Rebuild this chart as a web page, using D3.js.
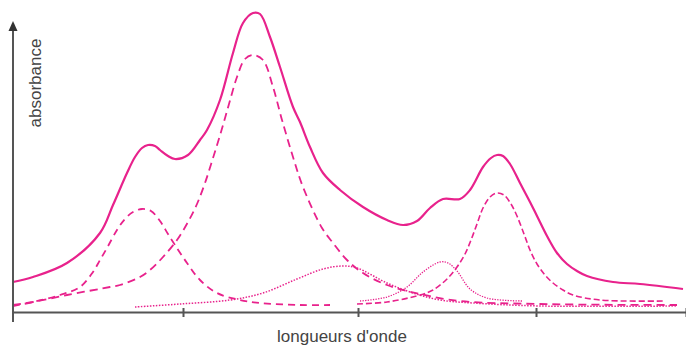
<!DOCTYPE html>
<html>
<head>
<meta charset="utf-8">
<script src="https://d3js.org/d3.v7.min.js"></script>
<style>
    body { margin: 0; background: #fff; }
    text { font-family: "Liberation Sans", Arial, sans-serif; fill: #444; }
</style>
</head>
<body>
<svg id="chart" width="686" height="347"></svg>
<script>
    // wavelength index (arbitrary units) and absorbance (arbitrary units)
    const xTicks = [170, 345, 523];

    const totalX = [0, 20, 54, 87, 100, 114, 122, 129, 135, 142, 147, 155, 162, 175, 187, 194, 207, 220, 230, 240, 247, 257, 267, 280, 287, 297, 310, 327, 350, 374, 390, 404, 417, 430, 447, 457, 470, 478, 484, 490, 497, 507, 517, 524, 534, 544, 554, 564, 574, 600, 627, 670];
    const totalY = [30, 35, 49, 79, 107, 139, 155, 164, 167, 166, 162, 156, 153, 157, 172, 182, 212, 259, 289, 299, 298, 275, 245, 205, 190, 165, 139, 122, 105, 92, 87, 91, 104, 113, 113, 122, 145, 154, 157, 156, 148, 129, 110, 96, 76, 59, 48, 41, 36, 30, 28, 23];

    // large band (dashed)
    const bandAX = [0, 20, 54, 97, 107, 127, 137, 150, 164, 175, 184, 192, 200, 208, 216, 224, 232, 240, 250, 260, 269, 280, 290, 309, 320, 334, 350, 374, 407, 447, 527, 664];
    const bandAY = [7, 10, 17, 25, 27, 35, 42, 55, 72, 90, 108, 129, 154, 180, 208, 235, 253, 257, 252, 225, 192, 155, 125, 84, 69, 52, 39, 27, 18, 11, 8, 7];

    // small left band (dashed)
    const bandBX = [0, 20, 47, 67, 80, 87, 94, 104, 112, 120, 129, 138, 147, 155, 162, 174, 187, 204, 227, 247, 287, 317];
    const bandBY = [6, 10, 17, 25, 40, 52, 64, 82, 93, 100, 103, 101, 91, 78, 67, 49, 32, 19, 12, 9, 7, 7];

    // broad middle band (dotted)
    const bandCX = [122, 167, 217, 250, 284, 310, 330, 344, 374, 400, 427, 460, 527, 664];
    const bandCY = [5, 8, 12, 19, 33, 43, 46, 44, 29, 19, 12, 9, 6, 6];

    // narrow right band (dotted)
    const bandDX = [347, 374, 394, 410, 427, 435, 444, 457, 474, 509];
    const bandDY = [11, 15, 25, 40, 50, 49, 41, 23, 14, 11];

    // right band (dashed)
    const bandEX = [344, 374, 407, 420, 434, 444, 452, 458, 464, 470, 477, 484, 491, 498, 504, 511, 517, 524, 532, 540, 550, 560, 587, 652];
    const bandEY = [8, 10, 17, 22, 33, 45, 58, 72, 88, 104, 115, 119, 117, 108, 96, 78, 62, 48, 37, 29, 22, 17, 12, 11];

    const pink = "#e8228c";
    const svg = d3.select("#chart");

    const x = d3.scaleLinear().domain([0, 673]).range([13, 686]);
    const y = d3.scaleLinear().domain([0, 300]).range([312, 12]);

    const line = d3.line()
        .x(d => x(d[0]))
        .y(d => y(d[1]))
        .curve(d3.curveCatmullRom.alpha(0.5));

    function zipPts(xs, ys) {
        return xs.map((v, i) => [v, ys[i]]);
    }

    const series = [
        { xs: bandBX, ys: bandBY, w: 1.8, dash: "7,5" },
        { xs: bandAX, ys: bandAY, w: 1.8, dash: "8,5" },
        { xs: bandCX, ys: bandCY, w: 1.5, dash: "1.5,1.5" },
        { xs: bandDX, ys: bandDY, w: 1.3, dash: "1.3,1.3" },
        { xs: bandEX, ys: bandEY, w: 1.6, dash: "6,3" },
        { xs: totalX, ys: totalY, w: 2.2, dash: null }
    ];

    series.forEach(s => {
        svg.append("path")
            .attr("d", line(zipPts(s.xs, s.ys)))
            .attr("fill", "none")
            .attr("stroke", pink)
            .attr("stroke-width", s.w)
            .attr("stroke-dasharray", s.dash);
    });

    // x axis
    const xAxis = svg.append("g")
        .attr("transform", "translate(0," + y(0) + ")")
        .call(d3.axisBottom(x).tickValues(xTicks.concat([673])).tickSize(0).tickFormat(""));
    xAxis.select(".domain").attr("stroke", "#555").attr("stroke-width", 2);
    xAxis.selectAll(".tick line").remove();
    xAxis.selectAll(".tick").append("line")
        .attr("y1", -4).attr("y2", 5)
        .attr("stroke", "#555").attr("stroke-width", 2);

    // y axis with arrow
    svg.append("line")
        .attr("x1", x(0)).attr("x2", x(0))
        .attr("y1", 322).attr("y2", 28)
        .attr("stroke", "#555").attr("stroke-width", 2);
    svg.append("path")
        .attr("d", "M" + x(0) + ",21 L" + (x(0) - 4.5) + ",31 L" + (x(0) + 4.5) + ",31 Z")
        .attr("fill", "#333");

    svg.append("text")
        .attr("transform", "translate(41,83) rotate(-90)")
        .attr("text-anchor", "middle")
        .attr("font-size", 17)
        .text("absorbance");

    svg.append("text")
        .attr("x", 342)
        .attr("y", 342)
        .attr("text-anchor", "middle")
        .attr("font-size", 17)
        .text("longueurs d'onde");
</script>
</body>
</html>
